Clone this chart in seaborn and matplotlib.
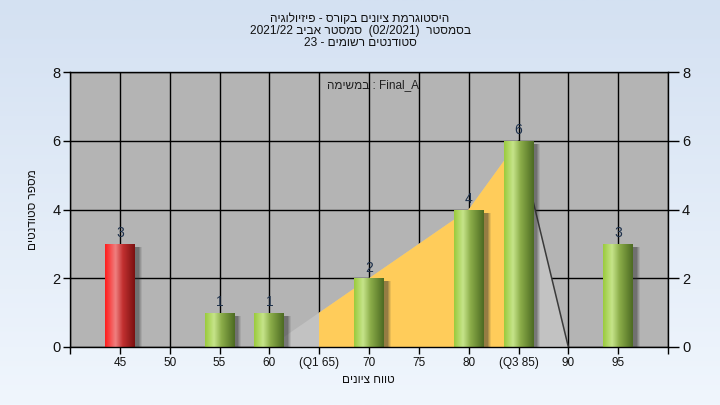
import re
import numpy as np
import pandas as pd
import matplotlib
matplotlib.use("Agg")
import matplotlib.pyplot as plt
import matplotlib.transforms as mtransforms
from matplotlib.patches import Rectangle, Polygon
from matplotlib.colors import LinearSegmentedColormap
import seaborn as sns

# ---------------- data ----------------
grades = [45, 55, 60, 70, 80, 85, 95]
counts = [3, 1, 1, 2, 4, 6, 3]
fail_grades = [45]
tick_values = [40, 45, 50, 55, 60, 65, 70, 75, 80, 85, 90, 95, 100]
tick_labels = ["", "45", "50", "55", "60", "(Q1 65)", "70", "75", "80", "(Q3 85)", "90", "95", ""]
area_x = [60, 70, 80, 85, 90]
area_y = [0, 2, 4, 6, 0]
q1, q3 = 65, 85
y_ticks = [0, 2, 4, 6, 8]

title_lines = [
    "היסטוגרמת ציונים בקורס - פיזיולוגיה",
    "בסמסטר  (02/2021)  סמסטר אביב 2021/22",
    "סטודנטים רשומים - 23",
]
legend_text = "Final_A : במשימה"
x_label = "טווח ציונים"
y_label = "מספר סטודנטים"


def rtl(s):
    """Convert a logical right-to-left string to visual order for LTR rendering."""
    r = s[::-1]
    r = re.sub(r"[A-Za-z0-9_/.]+", lambda m: m.group(0)[::-1], r)
    return r.translate(str.maketrans("()", ")("))


sns.set_theme(style="white")
plt.rcParams["font.family"] = ["Liberation Sans", "DejaVu Sans"]

fig = plt.figure(figsize=(7.2, 4.05), dpi=100)

# background gradient
bg = fig.add_axes([0, 0, 1, 1], zorder=-10)
grad = np.linspace(0, 1, 256).reshape(-1, 1)
bg_cmap = LinearSegmentedColormap.from_list("bg", ["#d4e1f2", "#f0f6fd"])
bg.imshow(grad, aspect="auto", cmap=bg_cmap, extent=[0, 1, 0, 1], origin="upper")
bg.set_axis_off()

ax = fig.add_axes([70 / 720, 1 - 347 / 405, 598 / 720, 275 / 405])
ax.set_facecolor("#b4b4b4")

# area under polyline
gray_poly = Polygon(list(zip(area_x, area_y)), closed=True, facecolor="#c2c2c2",
                    edgecolor="none", zorder=1)
ax.add_patch(gray_poly)
yellow_poly = Polygon(list(zip(area_x, area_y)), closed=True, facecolor="#ffcc5a",
                      edgecolor="none", zorder=1.1)
ax.add_patch(yellow_poly)
clip_rect = Rectangle((q1, 0), q3 - q1, 8, transform=ax.transData, facecolor="none")
yellow_poly.set_clip_path(clip_rect)
ax.plot(area_x[-2:], area_y[-2:], color="#3a3a3a", lw=1.1, zorder=1.5)

# bars
df = pd.DataFrame({"grade": grades, "count": counts})
sns.barplot(data=df, x="grade", y="count", native_scale=True, width=0.6,
            errorbar=None, ax=ax, color="#a0c850", zorder=3)

green_cmap = LinearSegmentedColormap.from_list(
    "g", [(0, "#9acb3c"), (0.3, "#c6e48a"), (0.55, "#8cae4a"), (1, "#4c6a22")])
red_cmap = LinearSegmentedColormap.from_list(
    "r", [(0, "#ff1c1c"), (0.35, "#ef8080"), (0.6, "#c23030"), (1, "#7a1010")])
hgrad = np.linspace(0, 1, 128).reshape(1, -1)

bar_patches = [p for p in list(ax.patches)
               if isinstance(p, Rectangle) and p.get_height() > 0]
for p in bar_patches:
    x0, w, h = p.get_x(), p.get_width(), p.get_height()
    xc = x0 + w / 2
    p.set_facecolor("none")
    p.set_edgecolor("none")
    # soft shadow
    for k, a in [(7, 0.10), (6, 0.14), (5, 0.18), (4, 0.22)]:
        off = mtransforms.ScaledTranslation(k / 100, -3 / 100, fig.dpi_scale_trans)
        sh = Rectangle((x0, 0), w, h, transform=ax.transData + off,
                       facecolor="#303030", edgecolor="none", alpha=a, zorder=2)
        ax.add_patch(sh)
    cmap = red_cmap if round(xc) in fail_grades else green_cmap
    im = ax.imshow(hgrad, aspect="auto", cmap=cmap, extent=[x0, x0 + w, 0, h],
                   zorder=3, interpolation="bilinear")
    im.set_clip_path(p)

for g, c in zip(grades, counts):
    ax.text(g, c + 0.1, str(c), ha="center", va="bottom", fontsize=10,
            color="#1c2f4a", zorder=5)

ax.set_xlim(40, 100)
ax.set_ylim(0, 8)
ax.set_aspect("auto")
ax.set_xticks(tick_values)
ax.set_xticklabels(tick_labels, fontsize=8.5, color="#111111")
ax.set_yticks(y_ticks)
ax.set_yticklabels([str(v) for v in y_ticks], fontsize=10.5, color="#111111")
ax.set_xlabel("")
ax.set_ylabel("")
ax.grid(True, color="black", lw=1)
ax.set_axisbelow(True)
ax.tick_params(axis="both", direction="out", length=5, width=1, color="black",
               bottom=True, left=True, pad=2)
for s in ax.spines.values():
    s.set_color("black")
    s.set_linewidth(1)
    s.set_zorder(6)

ax2 = ax.twinx()
ax2.set_ylim(0, 8)
ax2.set_yticks(y_ticks)
ax2.set_yticklabels([str(v) for v in y_ticks], fontsize=10.5, color="#111111")
ax2.tick_params(axis="y", direction="out", length=8, width=1, color="black", right=True, pad=2)
ax2.grid(False)
for s in ax2.spines.values():
    s.set_visible(False)

# texts
for i, line in enumerate(title_lines):
    fig.text(0.5, 1 - (19 + 12 * i) / 405, rtl(line), ha="center", va="center",
             fontsize=8.6, color="#111111")
ax.text(0.506, 0.953, rtl(legend_text), transform=ax.transAxes, ha="center",
        va="center", fontsize=8.5, color="#202020", zorder=7)
fig.text(368 / 720, 1 - 380 / 405, rtl(x_label), ha="center", va="center",
         fontsize=8.5, color="#111111")
fig.text(33 / 720, 1 - 210 / 405, rtl(y_label), ha="center", va="center",
         rotation=90, fontsize=8.5, color="#111111")

fig.savefig("out.png", dpi=100)
